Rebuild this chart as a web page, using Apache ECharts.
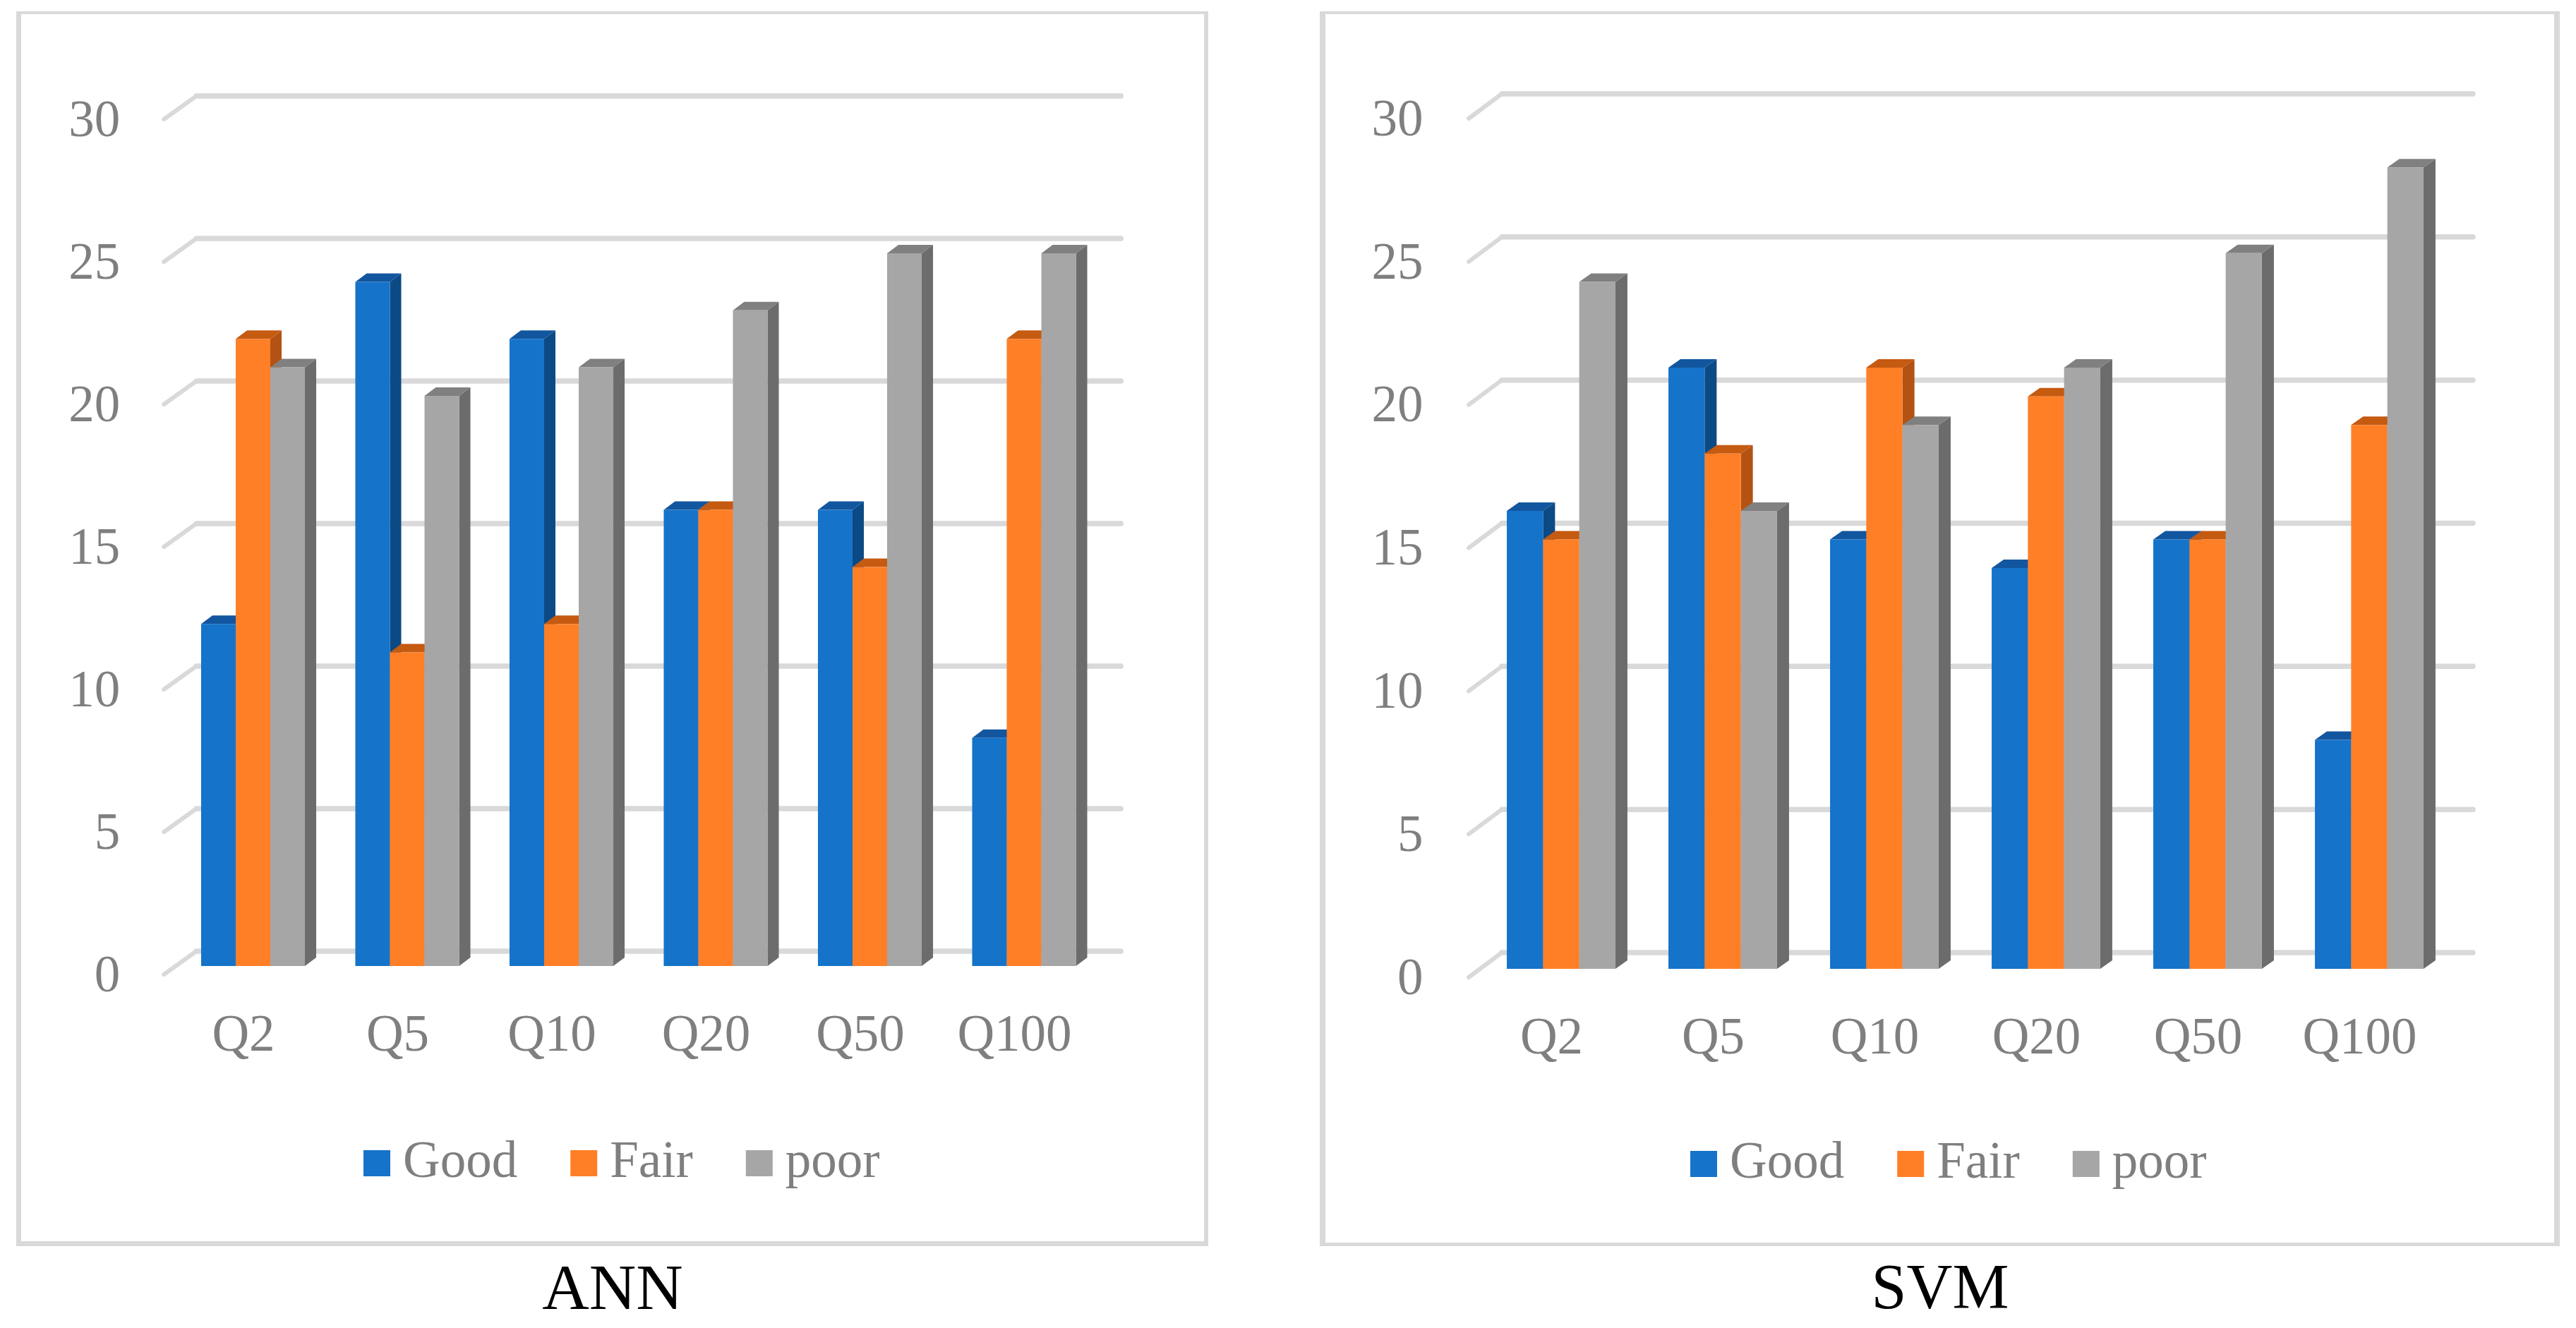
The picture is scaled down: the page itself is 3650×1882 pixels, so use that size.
<!DOCTYPE html>
<html><head><meta charset="utf-8">
<style>html,body{margin:0;padding:0;background:#fff}#c{width:3650px;height:1882px}</style>
<script src="https://cdn.jsdelivr.net/npm/echarts@6/dist/echarts.min.js"></script>
</head><body><div id="c"></div>
<script>
const categories = ['Q2','Q5','Q10','Q20','Q50','Q100'];
const yTicks = [0,5,10,15,20,25,30];
const seriesNames = ['Good','Fair','poor'];
const annGood = [12,24,22,16,16,8];
const annFair = [22,11,12,16,14,22];
const annPoor = [21,20,21,23,25,25];
const svmGood = [16,21,15,14,15,8];
const svmFair = [15,18,21,20,15,19];
const svmPoor = [24,16,19,21,25,28];

const FONT = '"Liberation Serif"';
const GRAY = '#7f7f7f';
const LINE = '#d9d9d9';
const palette = [
  {front:'#1573c9', side:'#0b4a85', top:'#12569f'},
  {front:'#ff7f27', side:'#b35212', top:'#c55a11'},
  {front:'#a6a6a6', side:'#6c6c6c', top:'#808080'}
];
const panels = [
  {title:'ANN', titleX:868, values:[annGood,annFair,annPoor],
   grid:{left:249.25,width:1311,top:157,height:1212}, dx:16, dy:12, ratio:0.673,
   wall:{front:-17, back:29, right:28, frontY:12, backY:-21},
   legendLeft:515, legendTop:1612, yMargin:79, xMargin:64},
  {title:'SVM', titleX:2749, values:[svmGood,svmFair,svmPoor],
   grid:{left:2097.5,width:1374,top:156,height:1217}, dx:17, dy:12, ratio:0.672,
   wall:{front:-16.5, back:30.5, right:32.5, frontY:12, backY:-23},
   legendLeft:2395, legendTop:1613, yMargin:81, xMargin:64}
];

function barRenderer(p, k){
  return function(params, api){
    const i = api.value(0), v = api.value(1);
    const c = api.coord([i,v]), c0 = api.coord([i,0]);
    const band = api.size([1,0])[0], group = band*p.ratio, w = group/3;
    const x = c[0]-group/2+k*w, yT = c[1], y0 = c0[1];
    const col = palette[k], dx = p.dx, dy = p.dy;
    return {type:'group', children:[
      {type:'polygon', shape:{points:[[x+w,yT],[x+w+dx,yT-dy],[x+w+dx,y0-dy],[x+w,y0]]}, style:{fill:col.side}},
      {type:'polygon', shape:{points:[[x,yT],[x+dx,yT-dy],[x+w+dx,yT-dy],[x+w,yT]]}, style:{fill:col.top}},
      {type:'rect', shape:{x:x,y:yT,width:w,height:y0-yT}, style:{fill:col.front}}
    ]};
  };
}
function wallRenderer(p){
  return function(params, api){
    const y = api.coord([0,api.value(1)])[1];
    const cs = params.coordSys, L = cs.x, R = cs.x+cs.width, W = p.wall;
    const s = {stroke:LINE, fill:null, lineCap:'round', lineJoin:'round'};
    return {type:'group', children:[
      {type:'polyline', shape:{points:[[L+W.front,y+W.frontY],[L+W.back,y+W.backY]]}, style:Object.assign({lineWidth:6},s)},
      {type:'polyline', shape:{points:[[L+W.back,y+W.backY],[R+W.right,y+W.backY]]}, style:Object.assign({lineWidth:7.5},s)}
    ]};
  };
}

const grids=[],xAxes=[],yAxes=[],series=[],legends=[],titles=[];
panels.forEach((p,pi)=>{
  grids.push(Object.assign({outerBoundsMode:'none'},p.grid));
  xAxes.push({type:'category',gridIndex:pi,data:categories,
    axisLine:{show:false},axisTick:{show:false},splitLine:{show:false},
    axisLabel:{interval:0,color:GRAY,fontFamily:FONT,fontSize:73,margin:p.xMargin,padding:[0,27,0,0]}});
  yAxes.push({type:'value',gridIndex:pi,min:0,max:30,interval:5,
    axisLine:{show:false},axisTick:{show:false},splitLine:{show:false},
    axisLabel:{color:GRAY,fontFamily:FONT,fontSize:73,margin:p.yMargin,verticalAlign:'top',lineHeight:33}});
  series.push({type:'custom',name:'wall'+pi,xAxisIndex:pi,yAxisIndex:pi,silent:true,z:1,
    renderItem:wallRenderer(p),clip:false,encode:{x:0,y:1},
    data:yTicks.map(t=>[0,t])});
  seriesNames.forEach((n,k)=>{
    series.push({type:'custom',name:n,xAxisIndex:pi,yAxisIndex:pi,z:2+k,
      itemStyle:{color:palette[k].front},
      renderItem:barRenderer(p,k),clip:false,encode:{x:0,y:1},
      data:p.values[k].map((v,i)=>[i,v])});
  });
  legends.push({left:p.legendLeft,top:p.legendTop,orient:'horizontal',icon:'rect',padding:0,
    itemWidth:38,itemHeight:37,itemGap:75,
    data:seriesNames,selectedMode:false,
    textStyle:{color:GRAY,fontFamily:FONT,fontSize:73,padding:[0,0,0,13]}});
  titles.push({text:p.title,left:p.titleX,top:1785,textAlign:'center',padding:0,
    textStyle:{color:'#000',fontFamily:FONT,fontSize:pi?90:92,fontWeight:'normal'}});
});

const frame=(x,y,w,h,ix,iy,iw,ih)=>[
  {type:'rect',silent:true,z:-2,shape:{x:x,y:y,width:w,height:h},style:{fill:LINE}},
  {type:'rect',silent:true,z:-1,shape:{x:ix,y:iy,width:iw,height:ih},style:{fill:'#fff'}}
];
const chart = echarts.init(document.getElementById('c'),null,{renderer:'canvas',width:3650,height:1882});
chart.setOption({
  animation:false,
  backgroundColor:'#ffffff',
  title:titles,
  legend:legends,
  grid:grids,
  xAxis:xAxes,
  yAxis:yAxes,
  series:series,
  graphic:{elements:[].concat(
    frame(23,16,1689,1750,30,20,1676,1739),
    frame(1870,16,1757,1750,1878,20,1741,1741))}
});
</script></body></html>
